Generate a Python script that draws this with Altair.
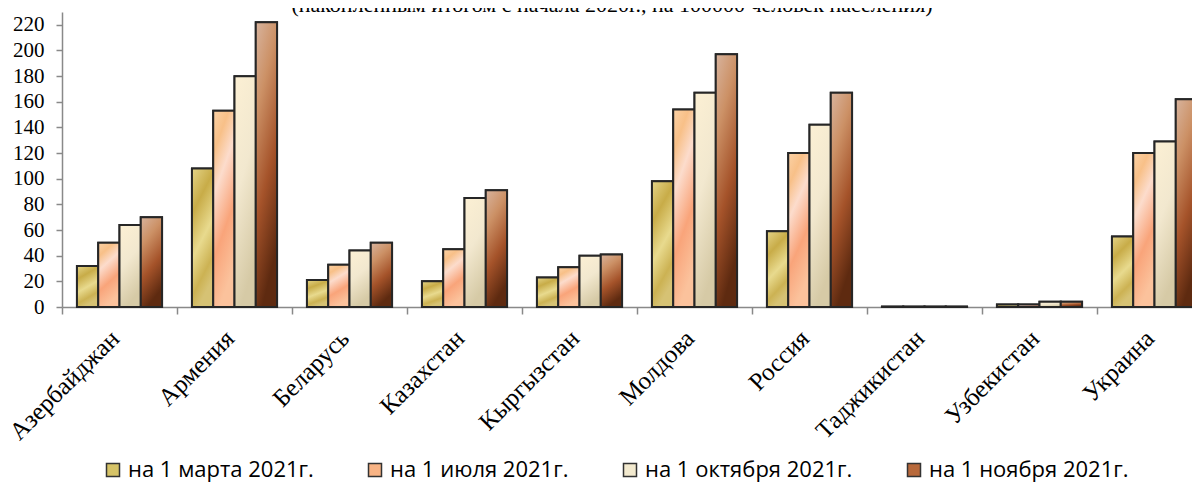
import altair as alt
import pandas as pd

countries = ["Азербайджан", "Армения", "Беларусь", "Казахстан", "Кыргызстан",
             "Молдова", "Россия", "Таджикистан", "Узбекистан", "Украина"]
series = ["на 1 марта 2021г.", "на 1 июля 2021г.", "на 1 октября 2021г.", "на 1 ноября 2021г."]
val_mar = [32, 108, 21, 20, 23, 98, 59, 0.3, 2, 55]
val_jul = [50, 153, 33, 45, 31, 154, 120, 0.3, 2, 120]
val_oct = [64, 180, 44, 85, 40, 167, 142, 0.3, 4, 129]
val_nov = [70, 222, 50, 91, 41, 197, 167, 0.3, 4, 162]
y_ticks = [0, 20, 40, 60, 80, 100, 120, 140, 160, 180, 200, 220]
title_text = "(накопленным итогом с начала 2020г., на 100000 человек населения)"

legend_colors = ["#d6c367", "#f9b485", "#f3eacf", "#b8693b"]

gradient_stops = [
    [(0.0, "#e4d488"), (0.3, "#c8ac48"), (0.6, "#e8da8e"), (0.85, "#ccb253"), (1.0, "#d6c274")],
    [(0.0, "#fbd2a6"), (0.2, "#f8c088"), (0.4, "#fcdccc"), (0.7, "#f9a47a"), (1.0, "#fbc29c")],
    [(0.0, "#fcf0d4"), (0.5, "#f2e8cf"), (1.0, "#d6caa6")],
    [(0.0, "#d8b49e"), (0.3, "#cc9166"), (0.65, "#a5532a"), (1.0, "#5e2a10")],
]

rows = []
for s, vals in zip(series, [val_mar, val_jul, val_oct, val_nov]):
    for c, v in zip(countries, vals):
        rows.append({"country": c, "series": s, "value": v})
df = pd.DataFrame(rows)

serif = "Liberation Serif"

x_enc = alt.X(
    "country:N", sort=countries, title=None,
    scale=alt.Scale(range=[0, 1150], paddingInner=0.26, paddingOuter=0.13),
    axis=alt.Axis(bandPosition=0, tickOffset=-15, labelOffset=10,
                  tickSize=7, tickColor="#898989", domainColor="#898989",
                  domainWidth=1.5, tickWidth=1.5,
                  labelAngle=-45, labelAlign="right", labelBaseline="middle",
                  labelFont=serif, labelFontSize=25, labelColor="#000", labelPadding=20),
)
xoff_enc = alt.XOffset("series:N", sort=series,
                       scale=alt.Scale(domain=series, paddingInner=0, paddingOuter=0))
y_enc = alt.Y(
    "value:Q", title=None, scale=alt.Scale(domain=[0, 230], nice=False),
    axis=alt.Axis(values=y_ticks, grid=False, tickSize=6, tickColor="#898989",
                  domainColor="#898989", domainWidth=1.5, tickWidth=1.5,
                  labelFont=serif, labelFontSize=21, labelColor="#000", labelPadding=12),
)

base = alt.Chart(df).mark_bar(stroke="#262626", strokeWidth=2).encode(
    x=x_enc, xOffset=xoff_enc, y=y_enc,
    color=alt.Color("series:N", sort=series,
                    scale=alt.Scale(domain=series, range=legend_colors),
                    legend=alt.Legend(orient="none", legendX=40, legendY=447,
                                      direction="horizontal", title=None,
                                      symbolType="square", symbolSize=169,
                                      symbolStrokeColor="#333", symbolStrokeWidth=1.5,
                                      symbolOpacity=1,
                                      labelFont="Open Sans", labelFontSize=22,
                                      labelColor="#000", labelOffset=4, labelLimit=0,
                                      columnPadding=50)),
)

layers = [base]
for s, stops in zip(series, gradient_stops):
    grad = alt.LinearGradient(
        gradient="linear", x1=0, y1=0, x2=0.3, y2=1,
        stops=[alt.GradientStop(offset=o, color=c) for o, c in stops],
    )
    layers.append(
        alt.Chart(df).transform_filter(alt.datum.series == s)
        .mark_bar(color=grad, stroke="#262626", strokeWidth=2)
        .encode(x=x_enc, xOffset=xoff_enc, y=y_enc)
    )

title_df = pd.DataFrame({"t": [title_text]})
title_layer = alt.Chart(title_df).mark_text(
    font=serif, fontSize=22, align="center", baseline="alphabetic", color="#000"
).encode(text="t:N", x=alt.value(550), y=alt.value(0))
layers.append(title_layer)

chart = alt.layer(*layers).properties(
    width=1130, height=295,
    autosize=alt.AutoSizeParams(type="none"),
    padding={"left": 54, "top": 4, "right": 0, "bottom": 175},
).configure_view(stroke=None)

chart.save("out.html", embed_options={"renderer": "svg", "actions": False})
